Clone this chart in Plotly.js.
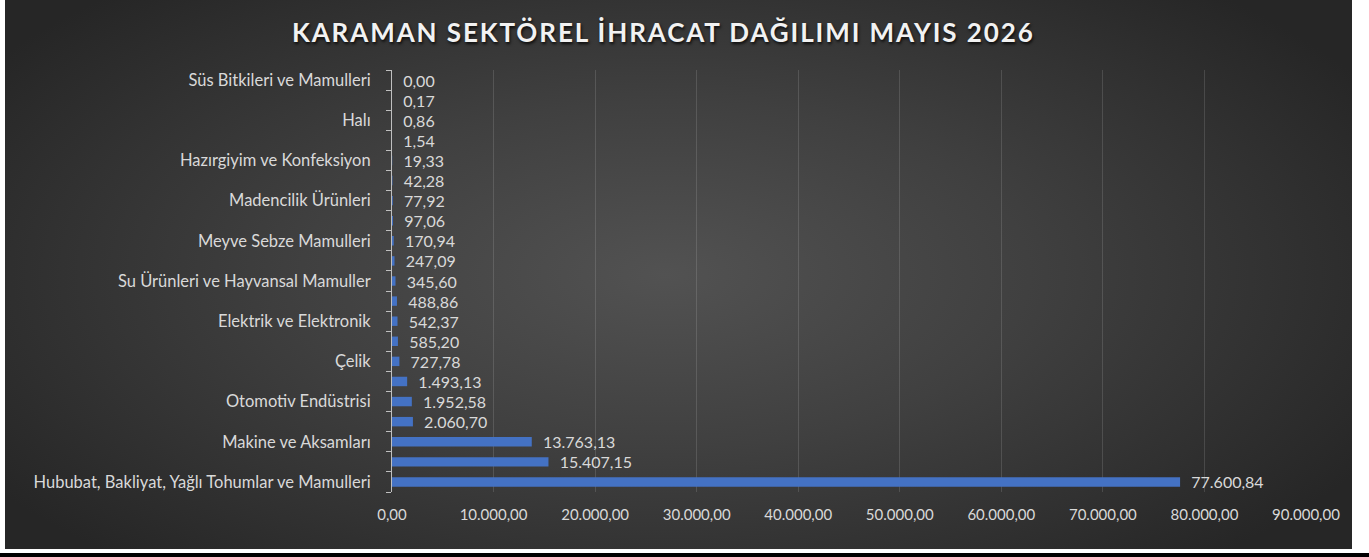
<!DOCTYPE html>
<html>
<head>
<meta charset="utf-8">
<script src="https://cdn.plot.ly/plotly-3.0.1.min.js"></script>
<style>
  html, body { margin: 0; padding: 0; background: #ffffff; width: 1369px; height: 557px; overflow: hidden; }
  #bg { position: absolute; left: 5px; top: 0; width: 1347px; height: 549px;
        background: radial-gradient(ellipse 60% 70% at 49% 50%, #525252 0%, #404040 45%, #262626 100%); }
  #strip { position: absolute; left: 0; top: 553px; width: 1369px; height: 4px; background: #000; }
  #chart { position: absolute; left: 0; top: 0; width: 1369px; height: 557px; }
  .gtitle { letter-spacing: 1.9px; }
</style>
</head>
<body>
<div id="bg"></div>
<div id="strip"></div>
<div id="chart"></div>
<script>
// Categories from bottom (largest) to top (smallest)
const categories = [
  "Hububat, Bakliyat, Yağlı Tohumlar ve Mamulleri",
  "Kimyevi Maddeler ve Mamulleri",
  "Makine ve Aksamları",
  "Mobilya, Kağıt ve Orman Ürünleri",
  "Otomotiv Endüstrisi",
  "Demir ve Demir Dışı Metaller",
  "Çelik",
  "Çimento Cam Seramik ve Toprak Ürünleri",
  "Elektrik ve Elektronik",
  "İklimlendirme Sanayii",
  "Su Ürünleri ve Hayvansal Mamuller",
  "Tekstil ve Hammaddeleri",
  "Meyve Sebze Mamulleri",
  "Kuru Meyve ve Mamulleri",
  "Madencilik Ürünleri",
  "Yaş Meyve ve Sebze",
  "Hazırgiyim ve Konfeksiyon",
  "Deri ve Deri Mamulleri",
  "Halı",
  "Zeytin ve Zeytinyağı",
  "Süs Bitkileri ve Mamulleri"
];
const values = [
  77600.84, 15407.15, 13763.13, 2060.70, 1952.58, 1493.13, 727.78,
  585.20, 542.37, 488.86, 345.60, 247.09, 170.94, 97.06, 77.92,
  42.28, 19.33, 1.54, 0.86, 0.17, 0.00
];
const xTickValues = [0, 10000, 20000, 30000, 40000, 50000, 60000, 70000, 80000, 90000];
const titleText = "KARAMAN SEKTÖREL İHRACAT DAĞILIMI MAYIS 2026";

const positions = categories.map((c, i) => i);
const shownIdx = positions.filter(i => i % 2 === 0);

const trace = {
  type: "bar",
  orientation: "h",
  x: values,
  y: positions,
  width: 0.47,
  marker: { color: "#4472C4", line: { width: 0 } },
  text: values,
  texttemplate: "\u00a0\u00a0%{x:,.2f}",
  textposition: "outside",
  constraintext: "none",
  cliponaxis: false,
  textfont: { family: "Lato, sans-serif", size: 16, color: "#d9d9d9" },
  outsidetextfont: { family: "Lato, sans-serif", size: 16, color: "#d9d9d9" },
  hoverinfo: "skip"
};

const layout = {
  width: 1369, height: 557,
  paper_bgcolor: "rgba(0,0,0,0)",
  plot_bgcolor: "rgba(0,0,0,0)",
  separators: ",.",
  margin: { l: 392, r: 63, t: 70, b: 65, pad: 0 },
  showlegend: false,
  font: { family: "Lato, sans-serif", color: "#d9d9d9", size: 16 },
  title: {
    text: titleText,
    x: 0.4845, xanchor: "center",
    y: 1 - 33 / 557, yanchor: "middle", yref: "container",
    font: { family: "Lato, sans-serif", size: 26, color: "#f2f2f2", weight: "bold",
            shadow: "1px 2px 3px rgba(0,0,0,0.8)" }
  },
  xaxis: {
    range: [0, 90000],
    tickmode: "array",
    tickvals: xTickValues,
    tickformat: ",.2f",
    showgrid: true,
    gridcolor: "rgba(255,255,255,0.13)",
    gridwidth: 1,
    zeroline: false,
    showline: false,
    ticks: "",
    ticklabelstandoff: 12,
    tickfont: { family: "Lato, sans-serif", size: 15, color: "#d9d9d9" },
    fixedrange: true
  },
  yaxis: {
    range: [-0.5, 20.5],
    tickmode: "array",
    tickvals: shownIdx,
    ticktext: shownIdx.map(i => categories[i]),
    ticks: "",
    showgrid: false,
    zeroline: false,
    showline: true,
    linecolor: "#bfbfbf",
    linewidth: 1,
    ticklabelstandoff: 17,
    tickfont: { family: "Lato, sans-serif", size: 16.5, color: "#d9d9d9" },
    minor: { tickmode: "linear", tick0: -0.5, dtick: 1, ticks: "outside", ticklen: 5,
             tickcolor: "#bfbfbf", tickwidth: 1, showgrid: false },
    fixedrange: true
  }
};

Plotly.newPlot("chart", [trace], layout, { displayModeBar: false, staticPlot: true });
</script>
</body>
</html>
